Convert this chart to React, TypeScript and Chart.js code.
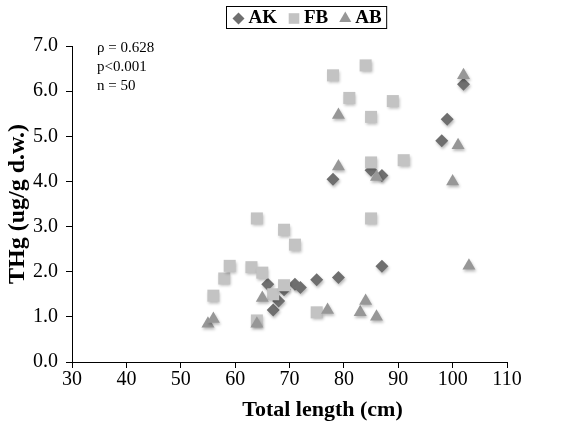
import React, { useEffect, useRef } from 'react';
import { Chart, registerables } from 'chart.js';

Chart.register(...registerables);

// ---- Data ----
const AK_X = [66, 67, 68, 69, 71, 72, 75, 78, 79, 85, 87, 87, 98, 99, 102];
const AK_Y = [1.72, 1.15, 1.35, 1.6, 1.72, 1.65, 1.82, 4.05, 1.87, 4.25, 4.13, 2.12, 4.9, 5.38, 6.15];

const FB_X = [56, 58, 59, 63, 64, 64, 65, 67, 69, 69, 71, 75, 78, 81, 84, 85, 85, 85, 89, 91];
const FB_Y = [1.47, 1.85, 2.13, 2.1, 3.18, 0.92, 1.98, 1.5, 1.7, 2.93, 2.6, 1.1, 6.35, 5.85, 6.57, 5.43, 4.42, 3.18, 5.78, 4.47];

const AB_X = [55, 56, 64, 65, 77, 79, 79, 83, 84, 86, 86, 100, 101, 102, 103];
const AB_Y = [0.85, 0.95, 0.85, 1.42, 1.15, 5.47, 4.33, 1.1, 1.35, 1.0, 4.1, 4.0, 4.8, 6.35, 2.13];

const SERIES_NAMES = ['AK', 'FB', 'AB'];
const SERIES_COLORS = ['#6f6f6f', '#c3c3c3', '#979797'];
const SERIES_STYLES = ['rectRot', 'rect', 'triangle'];
const SERIES_RADII = [6.5, 8.5, 7.5];

const STATS_LINES = ['\u03C1 = 0.628', 'p<0.001', 'n = 50'];

const X_MIN = 30;
const X_MAX = 110;
const X_STEP = 10;
const Y_MIN = 0;
const Y_MAX = 7;
const Y_STEP = 1;

const X_TITLE = 'Total length (cm)';
const Y_TITLE = 'THg (ug/g d.w.)';

const SERIF = '"Liberation Serif", "Times New Roman", serif';

const toPoints = (xs: number[], ys: number[]) => xs.map((x, i) => ({ x, y: ys[i] }));

const shadowPlugin = {
  id: 'markerShadow',
  beforeDatasetsDraw(chart: any) {
    const c = chart.ctx;
    c.save();
    c.shadowColor = 'rgba(0,0,0,0.28)';
    c.shadowBlur = 3;
    c.shadowOffsetX = 1;
    c.shadowOffsetY = 2;
  },
  afterDatasetsDraw(chart: any) {
    chart.ctx.restore();
  },
};

function drawMarker(c: CanvasRenderingContext2D, style: string, x: number, y: number, r: number) {
  c.beginPath();
  if (style === 'rectRot') {
    c.moveTo(x - r, y);
    c.lineTo(x, y - r);
    c.lineTo(x + r, y);
    c.lineTo(x, y + r);
    c.closePath();
  } else if (style === 'rect') {
    const s = r * Math.SQRT1_2;
    c.rect(x - s, y - s, 2 * s, 2 * s);
  } else {
    c.moveTo(x, y - r);
    c.lineTo(x + r * Math.sin((2 * Math.PI) / 3), y + r / 2);
    c.lineTo(x - r * Math.sin((2 * Math.PI) / 3), y + r / 2);
    c.closePath();
  }
  c.fill();
}

const legendPlugin = {
  id: 'boxLegend',
  afterDraw(chart: any) {
    const c: CanvasRenderingContext2D = chart.ctx;
    c.save();
    c.font = `bold 19px ${SERIF}`;
    c.textBaseline = 'middle';
    const markerW = 14;
    const gapMT = 3;
    const gapItems = 10;
    const padX = 5;
    const widths = SERIES_NAMES.map((n) => markerW + gapMT + c.measureText(n).width);
    const total = widths.reduce((a, b) => a + b, 0) + gapItems * (SERIES_NAMES.length - 1) + padX * 2;
    const cx = (chart.chartArea.left + chart.chartArea.right) / 2 + 17;
    const left = Math.round(cx - total / 2) + 0.5;
    const top = 6.5;
    const h = 22;
    c.strokeStyle = '#000';
    c.lineWidth = 1;
    c.strokeRect(left, top, total, h);
    let x = left + padX;
    const my = top + h / 2 + 1;
    SERIES_NAMES.forEach((n, i) => {
      c.fillStyle = SERIES_COLORS[i];
      const r = i === 0 ? 6 : i === 1 ? 7.5 : 7;
      drawMarker(c, SERIES_STYLES[i], x + markerW / 2, my, r);
      c.fillStyle = '#000';
      c.textAlign = 'left';
      c.fillText(n, x + markerW + gapMT, my);
      x += widths[i] + gapItems;
    });
    c.restore();
  },
};

const textPlugin = {
  id: 'statsText',
  afterDraw(chart: any) {
    const c: CanvasRenderingContext2D = chart.ctx;
    const { left, top, right } = chart.chartArea;
    c.save();
    c.font = `15px ${SERIF}`;
    c.fillStyle = '#000';
    c.textAlign = 'left';
    c.textBaseline = 'middle';
    STATS_LINES.forEach((t, i) => {
      c.fillText(t, left + 25, top + 2 + i * 19);
    });
    // x-axis title (offset to the right, as in the reference)
    c.font = `bold 22px ${SERIF}`;
    c.textAlign = 'center';
    c.fillText(X_TITLE, (left + right) / 2 + 33, chart.height - 11);
    c.restore();
  },
};

export default function App() {
  const ref = useRef<HTMLCanvasElement>(null);

  useEffect(() => {
    document.body.style.margin = '0';
    const datasets = [
      toPoints(AK_X, AK_Y),
      toPoints(FB_X, FB_Y),
      toPoints(AB_X, AB_Y),
    ].map((data, i) => ({
      label: SERIES_NAMES[i],
      data,
      pointStyle: SERIES_STYLES[i],
      pointRadius: SERIES_RADII[i],
      pointHoverRadius: SERIES_RADII[i],
      backgroundColor: SERIES_COLORS[i],
      borderColor: SERIES_COLORS[i],
      pointBorderWidth: 0,
      borderWidth: 0,
      showLine: false,
      order: 2 - i,
    }));

    const tickFont = { family: SERIF, size: 20 };
    const titleFont = { family: SERIF, size: 24, weight: 'bold' as const };

    const chart = new Chart(ref.current!, {
      type: 'scatter',
      data: { datasets },
      plugins: [shadowPlugin, legendPlugin, textPlugin],
      options: {
        responsive: false,
        animation: false,
        devicePixelRatio: 1,
        layout: { padding: { top: 46, right: 61, left: 0, bottom: 0 } },
        plugins: {
          legend: { display: false },
          tooltip: { enabled: false },
        },
        scales: {
          x: {
            type: 'linear',
            min: X_MIN,
            max: X_MAX,
            ticks: {
              stepSize: X_STEP,
              color: '#000',
              font: tickFont,
              padding: 0,
              maxRotation: 0,
              autoSkip: false,
            },
            grid: {
              display: true,
              drawOnChartArea: false,
              drawTicks: true,
              tickLength: 6,
              color: '#000',
            },
            border: { display: true, color: '#000', width: 1 },
            title: { display: false, text: X_TITLE },
            afterFit: (s: any) => {
              s.height = 59;
            },
          },
          y: {
            type: 'linear',
            min: Y_MIN,
            max: Y_MAX,
            ticks: {
              stepSize: Y_STEP,
              color: '#000',
              font: tickFont,
              padding: 8,
              callback: (v: any) => Number(v).toFixed(1),
            },
            grid: {
              display: true,
              drawOnChartArea: false,
              drawTicks: true,
              tickLength: 6,
              color: '#000',
            },
            border: { display: true, color: '#000', width: 1 },
            title: {
              display: true,
              text: Y_TITLE,
              color: '#000',
              font: titleFont,
              padding: { top: 3, bottom: 0 },
            },
            afterFit: (s: any) => {
              s.width = 72;
            },
          },
        },
      } as any,
    });
    return () => chart.destroy();
  }, []);

  return <canvas ref={ref} width={568} height={421} style={{ display: 'block' }} />;
}
